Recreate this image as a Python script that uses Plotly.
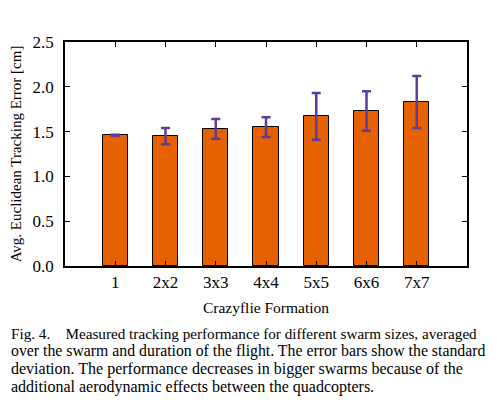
import plotly.graph_objects as go

# values
formations = ["1", "2x2", "3x3", "4x4", "5x5", "6x6", "7x7"]
mean_error = [1.46, 1.45, 1.53, 1.55, 1.67, 1.73, 1.83]
std_error = [0.005, 0.09, 0.11, 0.11, 0.26, 0.22, 0.29]
y_ticks = [0.0, 0.5, 1.0, 1.5, 2.0, 2.5]

caption_lines = [
    "Fig. 4.    Measured tracking performance for different swarm sizes, averaged",
    "over the swarm and duration of the flight. The error bars show the standard",
    "deviation. The performance decreases in bigger swarms because of the",
    "additional aerodynamic effects between the quadcopters.",
]
caption_sizes = [15.2, 15.8, 16, 16]

FONT = "Liberation Serif, Times New Roman, serif"
positions = list(range(len(formations)))

fig = go.Figure()
fig.add_trace(go.Bar(
    x=positions,
    y=mean_error,
    width=0.5,
    marker=dict(color="#e66100", line=dict(color="black", width=1)),
    error_y=dict(type="data", array=std_error, visible=True,
                 color="#5e3c99", thickness=2.5, width=4.5),
))

axis_style = dict(
    showline=True, linecolor="black", linewidth=1.5, mirror="ticks",
    ticks="inside", ticklen=5, tickcolor="black", tickwidth=1,
    showgrid=False, zeroline=False, automargin=False,
    tickfont=dict(family=FONT, size=17, color="black"),
)

fig.update_xaxes(
    range=[-1, 7], tickmode="array", tickvals=positions, ticktext=formations,
    ticklabelstandoff=0,
    title=dict(text="Crazyflie Formation", font=dict(family=FONT, size=15.5, color="black"),
               standoff=11),
    **axis_style,
)
fig.update_yaxes(
    range=[0, 2.5], tickvals=y_ticks, ticktext=[f"{v:.1f}" for v in y_ticks],
    ticklabelstandoff=6,
    title=dict(text="Avg. Euclidean Tracking Error [cm]",
               font=dict(family=FONT, size=15, color="black"), standoff=12),
    **axis_style,
)

# the page body adds an 8px offset, so the plot box is set 8px up and left
off = 8
plot_l, plot_r, plot_t, plot_b = 65 - off, 467 - off, 42 - off, 266 - off
for i, line in enumerate(caption_lines):
    py = 333 + i * 18 - off
    fig.add_annotation(
        text=line, xref="paper", yref="paper",
        x=(1 - plot_l) / (plot_r - plot_l), y=(plot_b - py) / (plot_b - plot_t),
        xanchor="left", yanchor="middle", showarrow=False, align="left",
        font=dict(family=FONT, size=caption_sizes[i], color="black"),
    )

fig.update_layout(
    width=504, height=404,
    margin=dict(l=plot_l, r=504 - plot_r, t=plot_t, b=404 - plot_b),
    plot_bgcolor="white", paper_bgcolor="white",
    showlegend=False,
    bargap=0,
)

fig.write_html("out.html")
